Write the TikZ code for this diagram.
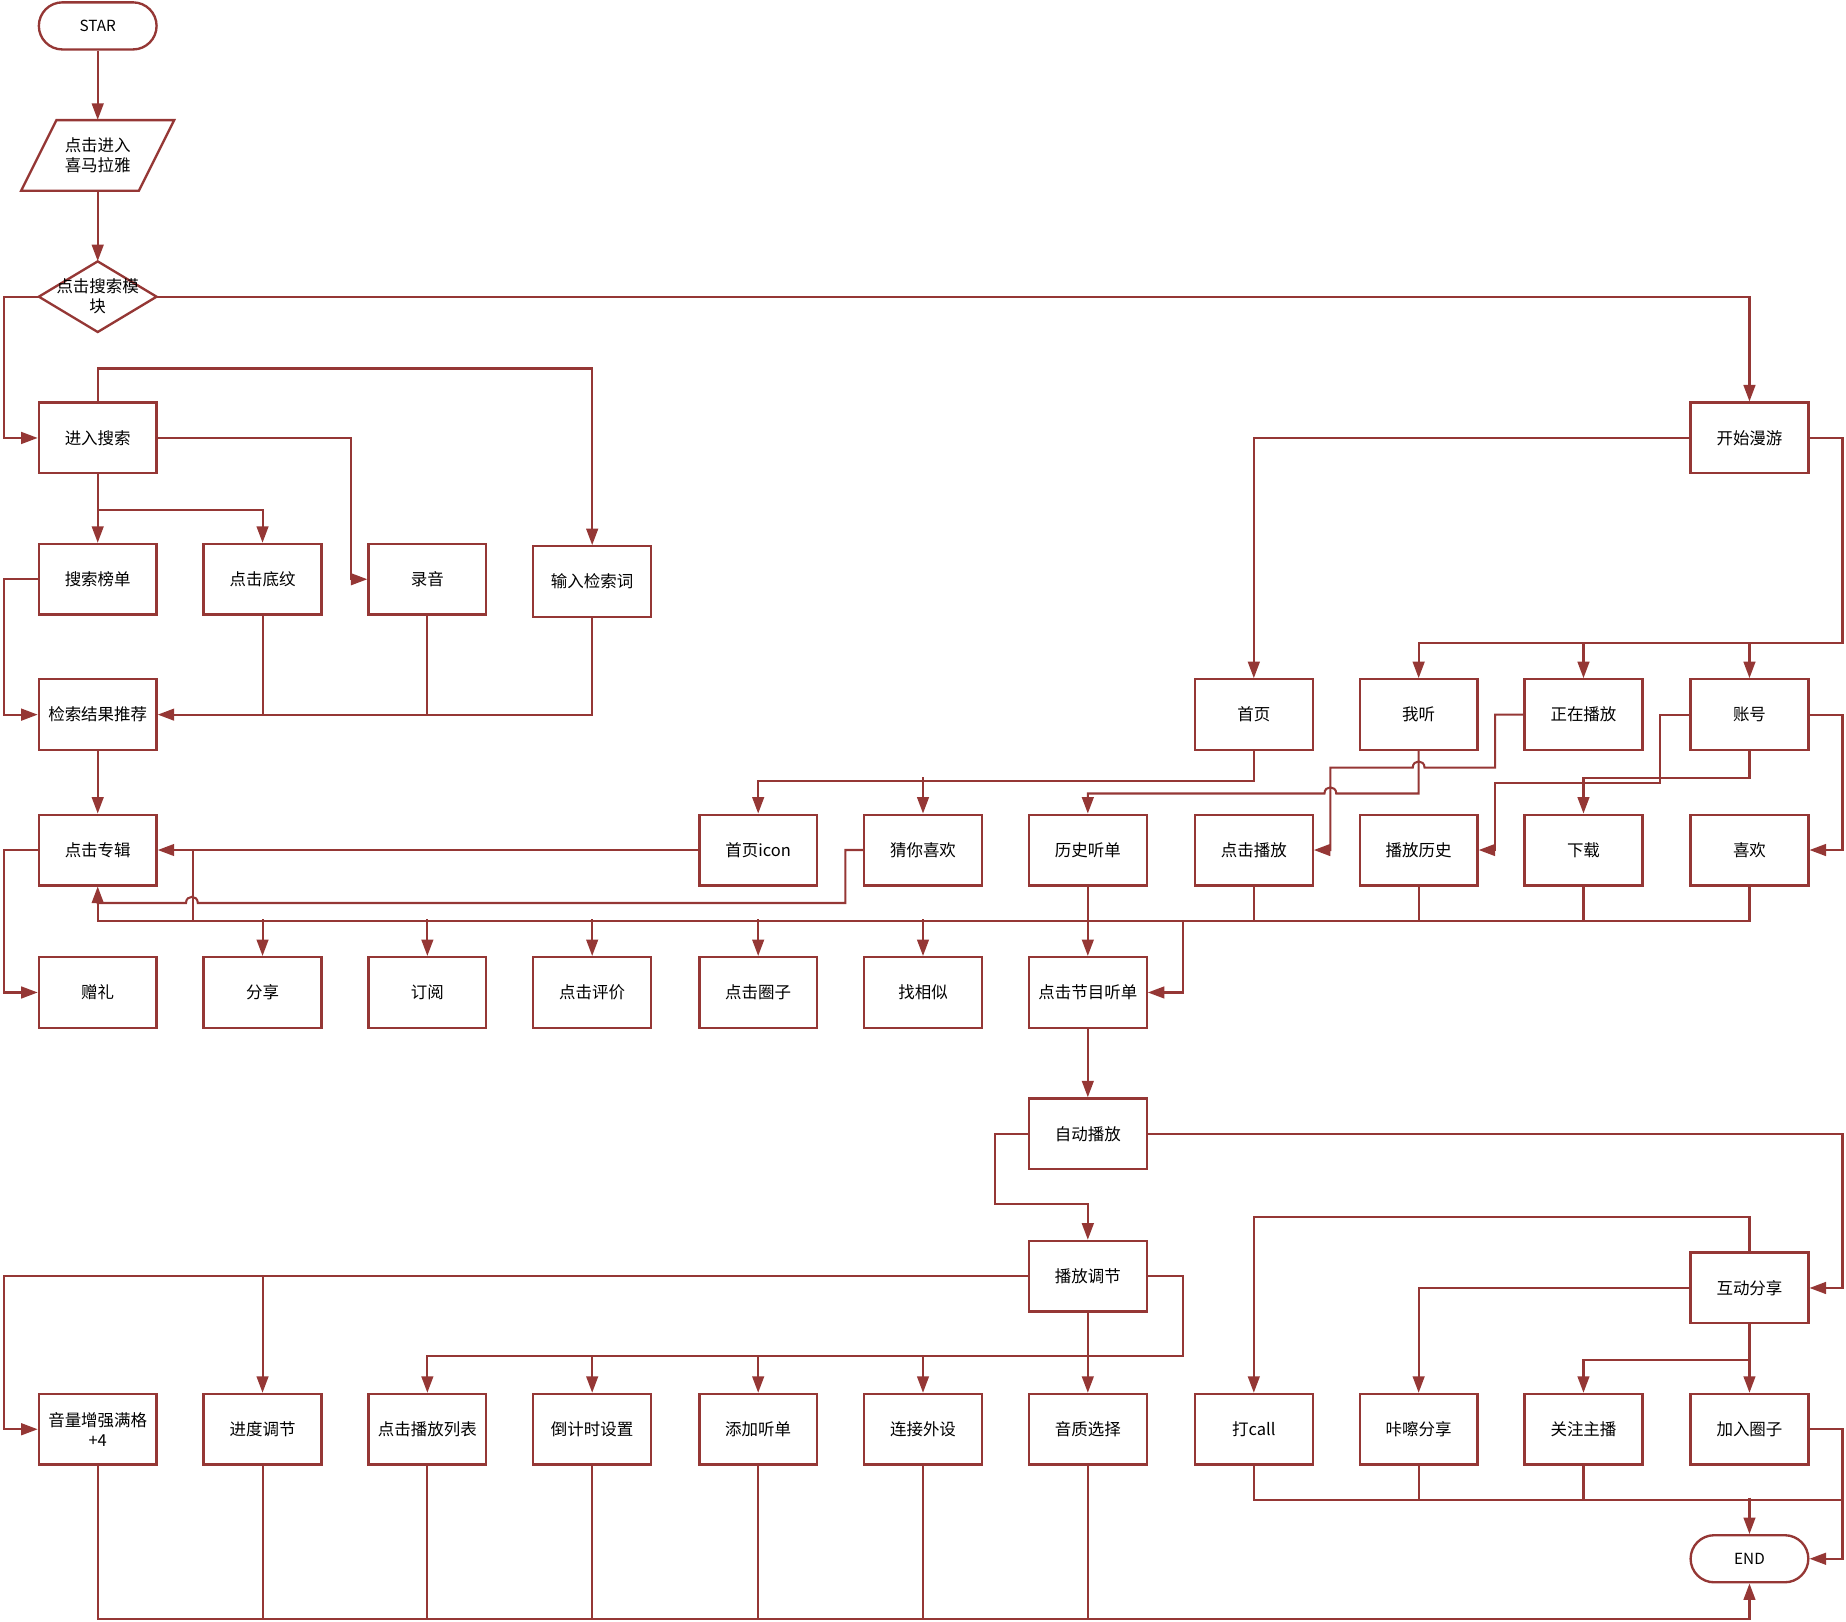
\documentclass[tikz,border=0pt]{standalone}
\usepackage{fontspec}
\newfontfamily\cjk{Noto Sans CJK SC}
\usetikzlibrary{arrows.meta}
\definecolor{dr}{RGB}{149,55,53}
\begin{document}
\begin{tikzpicture}[x=1pt,y=-1pt,
  box/.style={draw=dr, line width=2pt, minimum width=100pt, minimum height=60pt, inner sep=0pt, align=center, font=\cjk\fontsize{14}{17}\selectfont},
  term/.style={box, minimum height=40pt, rounded corners=20pt, font=\cjk\fontsize{13}{15}\selectfont},
  txt/.style={inner sep=0pt, minimum width=100pt, minimum height=60pt, align=center, font=\cjk\fontsize{14}{17}\selectfont},
  shapeline/.style={draw=dr, line width=2pt, line join=miter},
  ln/.style={draw=dr, line width=1.75pt},
  arr/.style={ln, -{Triangle[length=14pt,width=10pt]}}]
\useasboundingbox (0,0) rectangle (1568,1377);

% ---- nodes ----
\node[term] (star) at (83,22) {STAR};
\draw[shapeline] (48,102) -- (148,102) -- (118,162) -- (18,162) -- cycle;
\node[txt] (para) at (83,132) {点击进入\\喜马拉雅};
\draw[shapeline] (83,222) -- (133,252) -- (83,282) -- (33,252) -- cycle;
\node[txt] (dia) at (83,252) {点击搜索模\\块};

\node[box] (ss) at (83,372) {进入搜索};
\node[box] (my) at (1486,372) {开始漫游};

\node[box] (bd) at (83,492) {搜索榜单};
\node[box] (dw) at (223,492) {点击底纹};
\node[box] (ly) at (363,492) {录音};
\node[box] (sr) at (503,494) {输入检索词};

\node[box] (jg) at (83,607) {检索结果推荐};
\node[box] (sy) at (1065,607) {首页};
\node[box] (wt) at (1205,607) {我听};
\node[box] (zz) at (1345,607) {正在播放};
\node[box] (zh) at (1486,607) {账号};

\node[box] (zj) at (83,722) {点击专辑};
\node[box] (syi) at (644,722) {首页icon};
\node[box] (cn) at (784,722) {猜你喜欢};
\node[box] (ls) at (924,722) {历史听单};
\node[box] (dj) at (1065,722) {点击播放};
\node[box] (bl) at (1205,722) {播放历史};
\node[box] (xz) at (1345,722) {下载};
\node[box] (xh) at (1486,722) {喜欢};

\node[box] (zl) at (83,843) {赠礼};
\node[box] (fx) at (223,843) {分享};
\node[box] (dy) at (363,843) {订阅};
\node[box] (pj) at (503,843) {点击评价};
\node[box] (qz) at (644,843) {点击圈子};
\node[box] (xs) at (784,843) {找相似};
\node[box] (jm) at (924,843) {点击节目听单};

\node[box] (zd) at (924,963) {自动播放};
\node[box] (tj) at (924,1084) {播放调节};
\node[box] (hd) at (1486,1094) {互动分享};

\node[box] (b1) at (83,1214) {音量增强满格\\+4};
\node[box] (b2) at (223,1214) {进度调节};
\node[box] (b3) at (363,1214) {点击播放列表};
\node[box] (b4) at (503,1214) {倒计时设置};
\node[box] (b5) at (644,1214) {添加听单};
\node[box] (b6) at (784,1214) {连接外设};
\node[box] (b7) at (924,1214) {音质选择};
\node[box] (b8) at (1065,1214) {打call};
\node[box] (b9) at (1205,1214) {咔嚓分享};
\node[box] (b10) at (1345,1214) {关注主播};
\node[box] (b11) at (1486,1214) {加入圈子};
\node[term] (end) at (1486,1324) {END};

% ---- connectors ----
\draw[arr] (star) -- (para);
\draw[arr] (para) -- (dia);
\draw[arr] (dia.west) -- (3,252) |- (ss.west);
\draw[arr] (dia.east) -| (my.north);

\draw[arr] (ss.north) -- (83,313) -| (sr.north);
\draw[arr] (ss.east) -- (298,372) |- (ly.west);
\draw[arr] (ss.south) -- (bd.north);
\draw[arr] (ss.south) -- ++(0,30) -| (dw.north);

\draw[arr] (bd.west) -- (3,492) |- (jg.west);
\draw[arr] (sr.south) |- (jg.east);
\draw[ln] (dw.south) -- (dw.south |- jg.east);
\draw[ln] (ly.south) -- (ly.south |- jg.east);
\draw[arr] (jg) -- (zj);

\draw[arr] (zj.west) -- (3,722) |- (zl.west);
\draw[arr] (syi.west) -- (zj.east);
\draw[ln] ([xshift=30pt]zj.east) -- ++(0,60);
\draw[arr] (cn.west) -- (718,722) -- (718,767) -- (168,767)
   .. controls (168,760) and (158,760) .. (158,767) -- (83,767) -- (zj.south);

% bus under row 3
\draw[ln] (xh.south) -- (1486,782) -- (83,782) -- (83,767);
\draw[ln] (dj.south) -- ++(0,29);
\draw[ln] (bl.south) -- ++(0,29);
\draw[ln] (xz.south) -- ++(0,29);
\draw[arr] ([yshift=31pt]fx.north) -- (fx.north);
\draw[arr] ([yshift=31pt]dy.north) -- (dy.north);
\draw[arr] ([yshift=31pt]pj.north) -- (pj.north);
\draw[arr] ([yshift=31pt]qz.north) -- (qz.north);
\draw[arr] ([yshift=31pt]xs.north) -- (xs.north);
\draw[arr] (ls) -- (jm);
\draw[arr] ([xshift=30pt,yshift=61pt]jm.east) |- (jm.east);

% right upper part
\draw[arr] (my.west) -| (sy.north);
\draw[arr] (my.east) -- (1565,372) |- ([yshift=30pt]wt.north) -- (wt.north);
\draw[arr] ([yshift=30pt]zz.north) -- (zz.north);
\draw[arr] ([yshift=30pt]zh.north) -- (zh.north);

\draw[arr] (sy.south) -- ++(0,25) -| (syi.north);
\draw[arr] ([yshift=31pt]cn.north) -- (cn.north);

\draw[arr] (wt.south) -- (1205,674) -- (1135,674)
   .. controls (1135,667) and (1125,667) .. (1125,674) -- (924,674) -- (ls.north);
\draw[arr] (zz.west) -- (1270,607) -- (1270,652) -- (1210,652)
   .. controls (1210,645) and (1200,645) .. (1200,652) -- (1130,652) |- (dj.east);
\draw[arr] (zh.west) -- (1410,607) -- (1410,665) -- (1270,665) |- (bl.east);
\draw[arr] (zh.south) -- (1486,661) -| (xz.north);
\draw[arr] (zh.east) -- (1565,607) |- (xh.east);

% lower part
\draw[arr] (jm) -- (zd);
\draw[arr] (zd.west) -- (845,963) |- ([yshift=30pt]tj.north) -- (tj.north);
\draw[arr] (zd.east) -- (1565,963) |- (hd.east);

\draw[arr] (tj.west) -- (3,1084) |- (b1.west);
\draw[arr] (b2.north |- tj.west) -- (b2.north);
\draw[arr] (tj.east) -- (1005,1084) |- ([yshift=31pt]b3.north) -- (b3.north);
\draw[arr] ([yshift=31pt]b4.north) -- (b4.north);
\draw[arr] ([yshift=31pt]b5.north) -- (b5.north);
\draw[arr] ([yshift=31pt]b6.north) -- (b6.north);
\draw[arr] (tj) -- (b7);

\draw[arr] (hd.north) -- (1486,1034) -| (b8.north);
\draw[arr] (hd.west) -| (b9.north);
\draw[arr] (hd.south) -- (b11.north);
\draw[arr] (hd.south) -- ++(0,30) -| (b10.north);

\draw[ln] (b8.south) -- (1065,1274) -- (1565,1274);
\draw[ln] (b9.south) -- ++(0,30);
\draw[ln] (b10.south) -- ++(0,30);
\draw[arr] ([yshift=31pt]end.north) -- (end.north);
\draw[arr] (b11.east) -- (1565,1214) |- (end.east);

\draw[arr] (b1.south) -- (83,1375) -| (end.south);
\draw[ln] (b2.south) -- ++(0,131);
\draw[ln] (b3.south) -- ++(0,131);
\draw[ln] (b4.south) -- ++(0,131);
\draw[ln] (b5.south) -- ++(0,131);
\draw[ln] (b6.south) -- ++(0,131);
\draw[ln] (b7.south) -- ++(0,131);
\end{tikzpicture}
\end{document}
